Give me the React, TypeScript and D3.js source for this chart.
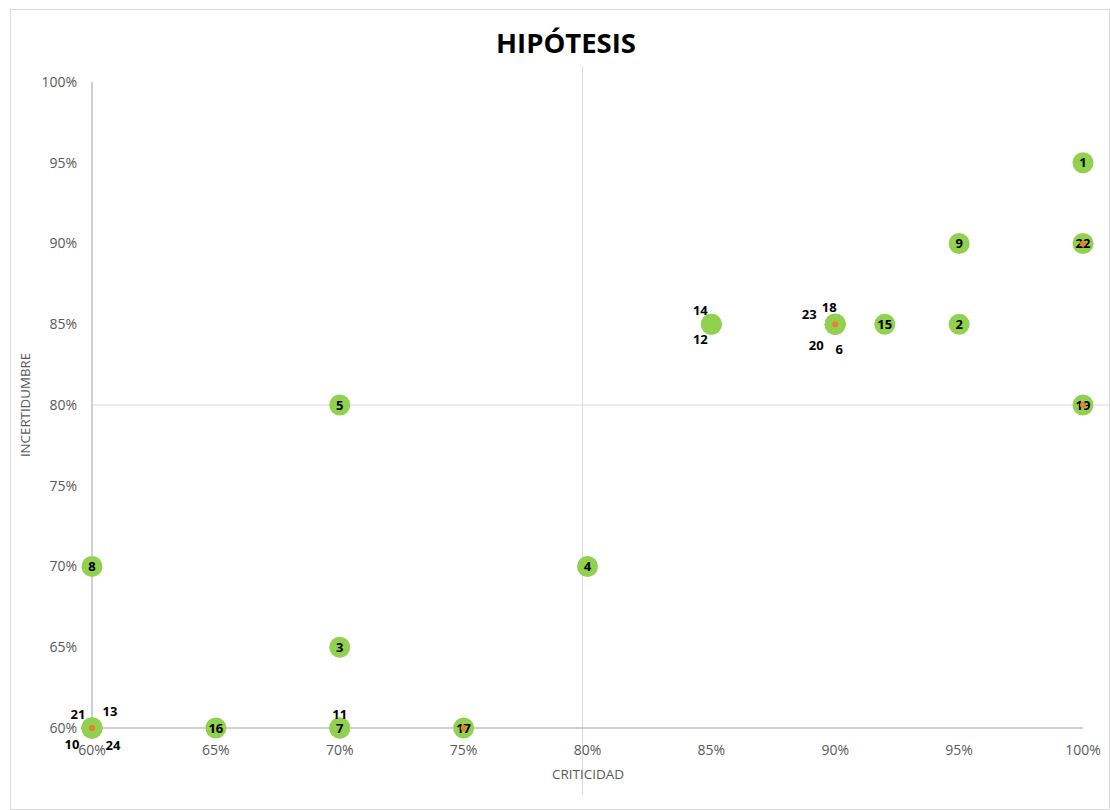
import React from "react";
import * as d3 from "d3";

// ---- data ----
const hypothesisIds = ["1","2","3","4","5","6","7","8","9","10","11","12","13","14","15","16","17","18","19","20","21","22","23","24"];
const criticidad = [1.0, 0.95, 0.70, 0.80, 0.70, 0.90, 0.70, 0.60, 0.95, 0.60, 0.70, 0.85, 0.60, 0.85, 0.92, 0.65, 0.75, 0.90, 1.0, 0.90, 0.60, 1.0, 0.90, 0.60];
const incertidumbre = [0.95, 0.85, 0.65, 0.70, 0.80, 0.85, 0.60, 0.70, 0.90, 0.60, 0.60, 0.85, 0.60, 0.85, 0.85, 0.60, 0.60, 0.85, 0.80, 0.85, 0.60, 0.90, 0.85, 0.60];
// hypotheses plotted in the second (orange) series
const secondSeriesIds = ["10", "20", "22", "19", "17"];
const xTicks = [0.6, 0.65, 0.7, 0.75, 0.8, 0.85, 0.9, 0.95, 1.0];
const yTicks = [0.6, 0.65, 0.7, 0.75, 0.8, 0.85, 0.9, 0.95, 1.0];
// crosshair reference lines
const refX = 0.798;
const refY = 0.8;

// label placement (style): offsets from point centre
const labelOffsets: Record<string, [number, number]> = {
  "21": [-14, -14], "13": [18, -17], "10": [-20, 16], "24": [21, 17],
  "11": [0, -14],
  "14": [-11, -14], "12": [-11, 15],
  "23": [-26, -10], "18": [-6, -17], "20": [-19, 21], "6": [4, 25],
};

const W = 1110, H = 810;
const FONT = "'Open Sans', 'Noto Sans', sans-serif";

export default function App() {
  const x = d3.scaleLinear().domain([0.6, 1.0]).range([92, 1083]);
  const y = d3.scaleLinear().domain([0.6, 1.0]).range([728, 82]);
  const fmt = d3.format(".0%");
  const pts = hypothesisIds.map((id, i) => ({ id, cx: x(criticidad[i]), cy: y(incertidumbre[i]) }));
  const orange = pts.filter((p) => secondSeriesIds.includes(p.id));

  return (
    <svg width={W} height={H} style={{ position: "absolute", left: 0, top: 0, background: "#fff" }}>
      <rect x={10.5} y={9.5} width={W - 11} height={H - 10} fill="#fff" stroke="#d9d9d9" />
      <text x={566} y={53} textAnchor="middle" fontFamily={FONT} fontWeight="bold" fontSize={27.5} fill="#000">HIPÓTESIS</text>

      {/* crosshair lines at 80% */}
      <line x1={x(refX)} x2={x(refX)} y1={66} y2={795} stroke="#d9d9d9" strokeWidth={1} />
      <line x1={x(0.6)} x2={W} y1={y(refY)} y2={y(refY)} stroke="#d9d9d9" strokeWidth={1} />
      {/* axis lines */}
      <line x1={x(0.6)} x2={x(0.6)} y1={y(1.0)} y2={y(0.6)} stroke="#bfbfbf" strokeWidth={1.5} />
      <line x1={x(0.6)} x2={x(1.0)} y1={y(0.6)} y2={y(0.6)} stroke="#bfbfbf" strokeWidth={1.5} />

      {yTicks.map((t) => (
        <text key={"y" + t} x={77} y={y(t)} dy="0.35em" textAnchor="end" fontFamily={FONT} fontSize={14} fill="#595959">{fmt(t)}</text>
      ))}
      {xTicks.map((t) => (
        <text key={"x" + t} x={x(t)} y={750} dy="0.35em" textAnchor="middle" fontFamily={FONT} fontSize={14} fill="#595959">{fmt(t)}</text>
      ))}
      <text x={588} y={774} dy="0.35em" textAnchor="middle" fontFamily={FONT} fontSize={13.5} fill="#595959">CRITICIDAD</text>
      <text transform={`translate(25,405) rotate(-90)`} dy="0.35em" textAnchor="middle" fontFamily={FONT} fontSize={13.3} fill="#595959">INCERTIDUMBRE</text>

      {pts.map((p) => (
        <circle key={"c" + p.id} cx={p.cx} cy={p.cy} r={10.5} fill="#92D050" />
      ))}
      {pts.map((p) => {
        const off = labelOffsets[p.id] || [0, 0];
        return (
          <text key={"l" + p.id} x={p.cx + off[0]} y={p.cy + off[1]} dy="0.36em" textAnchor="middle" fontFamily={FONT} fontWeight="bold" fontSize={13} fill="#000">{p.id}</text>
        );
      })}
      {orange.map((p) => (
        <circle key={"o" + p.id} cx={p.cx} cy={p.cy} r={3} fill="#ED7D31" />
      ))}
    </svg>
  );
}
